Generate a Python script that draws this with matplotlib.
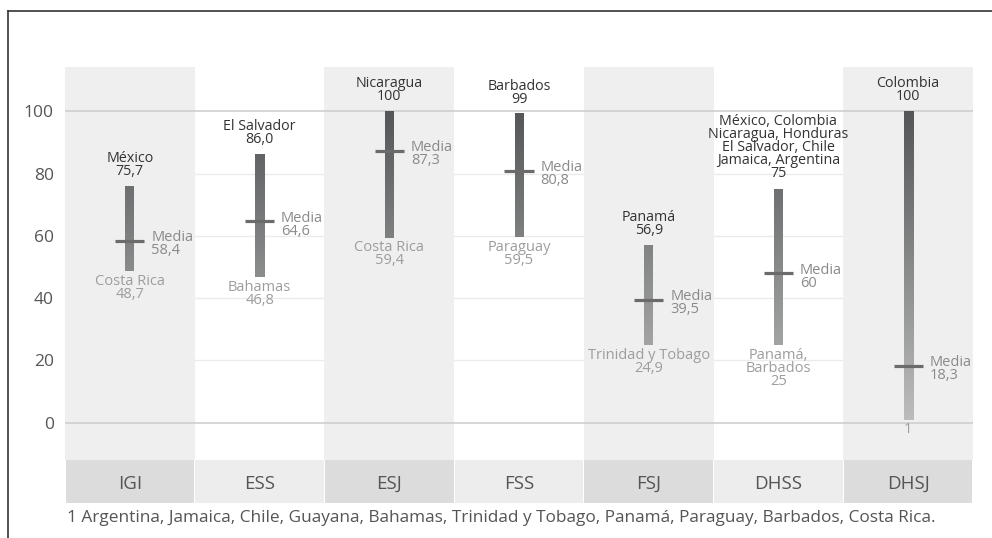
import matplotlib
matplotlib.use("Agg")
import matplotlib.pyplot as plt
import numpy as np
from matplotlib.colors import LinearSegmentedColormap
from matplotlib.lines import Line2D

plt.rcParams['font.family'] = ['Open Sans', 'DejaVu Sans']

categories = ["IGI", "ESS", "ESJ", "FSS", "FSJ", "DHSS", "DHSJ"]
max_vals = [75.7, 86.0, 100, 99, 56.9, 75, 100]
min_vals = [48.7, 46.8, 59.4, 59.5, 24.9, 25, 1]
media_vals = [58.4, 64.6, 87.3, 80.8, 39.5, 48, 18.3]
media_labels = ["58,4", "64,6", "87,3", "80,8", "39,5", "60", "18,3"]
max_labels = ["México\n75,7", "El Salvador\n86,0", "Nicaragua\n100", "Barbados\n99",
              "Panamá\n56,9",
              "México, Colombia\nNicaragua, Honduras\nEl Salvador, Chile\nJamaica, Argentina\n75",
              "Colombia\n100"]
min_labels = ["Costa Rica\n48,7", "Bahamas\n46,8", "Costa Rica\n59,4", "Paraguay\n59,5",
              "Trinidad y Tobago\n24,9", "Panamá,\nBarbados\n25", "1"]
yticks = [0, 20, 40, 60, 80, 100]
footnote = "1 Argentina, Jamaica, Chile, Guayana, Bahamas, Trinidad y Tobago, Panamá, Paraguay, Barbados, Costa Rica."

W, H = 992, 538
fig = plt.figure(figsize=(W / 100, H / 100), dpi=100)

def fx(px):
    return px / W

def fy(py):
    return 1 - py / H

left_px, right_px = 65, 973
top_px, bot_px = 67, 460
band_bot_px = 503

ax = fig.add_axes([fx(left_px), fy(bot_px), fx(right_px - left_px), (bot_px - top_px) / H])
ax.set_xlim(-0.5, len(categories) - 0.5)
ax.set_ylim(-12, 114.2)
for s in ax.spines.values():
    s.set_visible(False)
ax.set_xticks([])
ax.set_yticks(yticks)
ax.set_yticklabels([str(t) for t in yticks])
ax.tick_params(axis='y', length=0, pad=8, labelsize=12.5, labelcolor='#555555')

# light gridlines (under shading)
for t in yticks:
    if t in (0, 100):
        continue
    ax.axhline(t, color='#ebebeb', lw=1.0, zorder=0)

# shaded columns
for i in range(len(categories)):
    if i % 2 == 0:
        ax.axvspan(i - 0.5, i + 0.5, color='#efefef', lw=0, zorder=1)

for t in (0, 100):
    ax.axhline(t, color='#cbcbcb', lw=1.1, zorder=2)

cmap = LinearSegmentedColormap.from_list('g', ['#bdbdbd', '#545657'])
bw = 9 / ((right_px - left_px) / len(categories)) / 2
tw = 29 / ((right_px - left_px) / len(categories)) / 2

for i in range(len(categories)):
    lo, hi = min_vals[i], max_vals[i]
    grad = np.linspace(lo, hi, 256).reshape(-1, 1)
    ax.imshow(grad, cmap=cmap, vmin=0, vmax=100, origin='lower', aspect='auto',
              extent=[i - bw, i + bw, lo, hi], zorder=3, interpolation='bilinear')
    ax.plot([i - tw, i + tw], [media_vals[i], media_vals[i]], color='#6b6b6b', lw=2.3,
            solid_capstyle='butt', zorder=4)
    ax.annotate("Media\n" + media_labels[i], (i, media_vals[i]), xytext=(15.5, -2.5),
                textcoords='offset points', ha='left', va='center', fontsize=10.5,
                color='#8a8a8a', linespacing=0.82, zorder=5)
    ax.annotate(max_labels[i], (i, hi), xytext=(0, 5.5), textcoords='offset points',
                ha='center', va='bottom', fontsize=10.3, color='#333333',
                linespacing=0.82, zorder=5)
    ax.annotate(min_labels[i], (i, lo), xytext=(0, -2), textcoords='offset points',
                ha='center', va='top', fontsize=10.5, color='#9d9d9d',
                linespacing=0.82, zorder=5)
ax.set_xlim(-0.5, len(categories) - 0.5)
ax.set_ylim(-12, 114.2)

# category band
bax = fig.add_axes([fx(left_px), fy(band_bot_px), fx(right_px - left_px), (band_bot_px - bot_px) / H])
bax.set_xlim(-0.5, len(categories) - 0.5)
bax.set_ylim(0, 1)
bax.axis('off')
for i, c in enumerate(categories):
    col = '#dcdcdd' if i % 2 == 0 else '#ededed'
    bax.bar(i, 1, width=0.992, bottom=0, color=col, lw=0)
    bax.text(i, 0.45, c, ha='center', va='center', fontsize=13.5, color='#555555')

fig.text(fx(67), fy(518), footnote, ha='left', va='center', fontsize=12.4, color='#555555')

# frame
fig.add_artist(Line2D([fx(8), 1], [fy(11), fy(11)], color='#333333', lw=1.2))
fig.add_artist(Line2D([fx(8), fx(8)], [fy(11), 0], color='#333333', lw=1.2))

fig.savefig("out.png", dpi=100)
